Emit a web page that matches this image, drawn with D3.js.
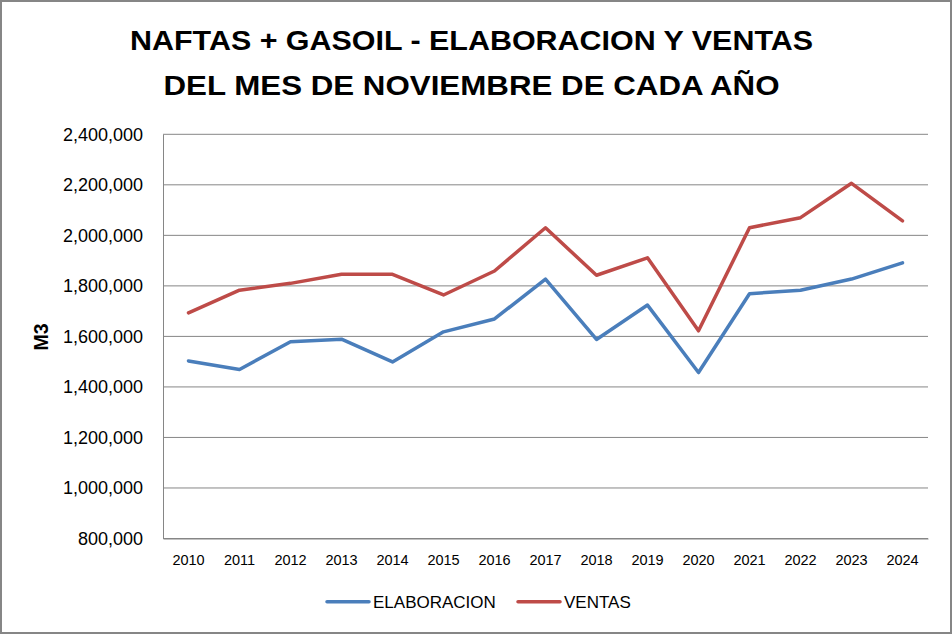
<!DOCTYPE html>
<meta charset="utf-8">
<script src="https://d3js.org/d3.v7.min.js"></script>
<style>
  body { margin: 0; background: #fff; }
  text { font-family: "Liberation Sans", Arial, sans-serif; fill: #000; }
</style>
<div id="chart"></div>
<script>
  // data
  var years = ["2010", "2011", "2012", "2013", "2014", "2015", "2016", "2017",
               "2018", "2019", "2020", "2021", "2022", "2023", "2024"];
  var elaboracion = [1503000, 1469000, 1579000, 1589000, 1499000, 1618000, 1669000, 1827000,
                     1588000, 1724000, 1457000, 1769000, 1783000, 1827000, 1891000];
  var ventas = [1693000, 1783000, 1810000, 1846000, 1846000, 1764000, 1859000, 2030000,
                1842000, 1911000, 1622000, 2030000, 2070000, 2206000, 2057000];
  var yTicks = [800000, 1000000, 1200000, 1400000, 1600000, 1800000, 2000000, 2200000, 2400000];
  var titleLines = ["NAFTAS + GASOIL - ELABORACION Y VENTAS", "DEL MES DE NOVIEMBRE DE CADA AÑO"];
  var series = [
    {name: "ELABORACION", values: elaboracion, color: "#4A7EBB"},
    {name: "VENTAS", values: ventas, color: "#BE4B48"}
  ];

  var W = 952, H = 634;
  var plot = {left: 163, right: 928, top: 134.3, bottom: 538.5};

  var svg = d3.select("#chart").append("svg")
    .attr("width", W)
    .attr("height", H);

  // outer frame
  svg.append("rect")
    .attr("x", 1).attr("y", 1)
    .attr("width", W - 2).attr("height", H - 2)
    .attr("fill", "#fff")
    .attr("stroke", "#868686")
    .attr("stroke-width", 2);

  // title
  var titleWidths = [683, 616];
  svg.append("g").selectAll("text")
    .data(titleLines)
    .enter().append("text")
      .attr("x", 471.5)
      .attr("y", function (d, i) { return 50 + i * 45; })
      .attr("text-anchor", "middle")
      .attr("font-size", 28)
      .attr("font-weight", "bold")
      .attr("textLength", function (d, i) { return titleWidths[i]; })
      .attr("lengthAdjust", "spacingAndGlyphs")
      .text(function (d) { return d; });

  var x = d3.scaleBand()
    .domain(years)
    .range([plot.left, plot.right]);

  var y = d3.scaleLinear()
    .domain([800000, 2400000])
    .range([plot.bottom, plot.top]);

  // gridlines
  svg.append("g").selectAll("line")
    .data(yTicks)
    .enter().append("line")
      .attr("x1", plot.left).attr("x2", plot.right)
      .attr("y1", function (d) { return y(d); })
      .attr("y2", function (d) { return y(d); })
      .attr("stroke", "#868686")
      .attr("stroke-width", 1);

  // y axis
  var yAxis = svg.append("g")
    .attr("transform", "translate(" + plot.left + ",0)")
    .call(d3.axisLeft(y).tickValues(yTicks).tickSize(0).tickPadding(20)
      .tickFormat(d3.format(",")));
  yAxis.select(".domain").attr("stroke", "#868686");
  yAxis.selectAll("text")
    .attr("font-size", 18)
    .attr("font-family", "'Liberation Sans', Arial, sans-serif")
    .attr("fill", "#000");

  // x axis
  var xAxis = svg.append("g")
    .attr("transform", "translate(0," + plot.bottom + ")")
    .call(d3.axisBottom(x).tickSize(0).tickPadding(16));
  xAxis.select(".domain").attr("stroke", "#868686");
  xAxis.selectAll("text")
    .attr("font-size", 14.5)
    .attr("font-family", "'Liberation Sans', Arial, sans-serif")
    .attr("fill", "#000");

  // y axis title
  svg.append("text")
    .attr("transform", "translate(48,337) rotate(-90)")
    .attr("text-anchor", "middle")
    .attr("font-size", 19.5)
    .attr("font-weight", "bold")
    .text("M3");

  // lines
  var line = d3.line()
    .x(function (d, i) { return x(years[i]) + x.bandwidth() / 2; })
    .y(function (d) { return y(d); });

  svg.append("g").selectAll("path")
    .data(series)
    .enter().append("path")
      .attr("d", function (d) { return line(d.values); })
      .attr("fill", "none")
      .attr("stroke", function (d) { return d.color; })
      .attr("stroke-width", 3.5)
      .attr("stroke-linejoin", "round")
      .attr("stroke-linecap", "round");

  // legend
  var legendX = [327, 518];
  var legend = svg.append("g").selectAll("g")
    .data(series)
    .enter().append("g")
      .attr("transform", function (d, i) { return "translate(" + legendX[i] + ",601.7)"; });
  legend.append("line")
    .attr("x1", 0).attr("x2", 42)
    .attr("stroke", function (d) { return d.color; })
    .attr("stroke-width", 3.5)
    .attr("stroke-linecap", "round");
  legend.append("text")
    .attr("x", 46)
    .attr("y", 6.5)
    .attr("font-size", 17)
    .text(function (d) { return d.name; });
</script>
